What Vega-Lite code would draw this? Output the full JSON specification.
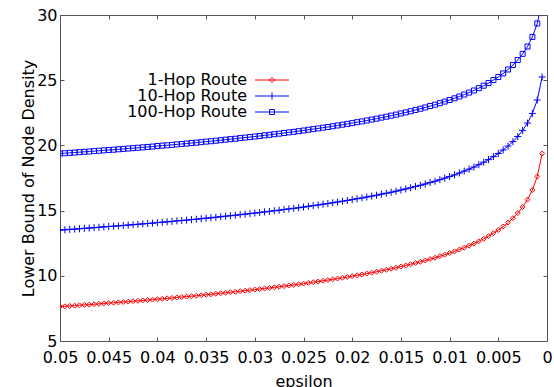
{
"$schema": "https://vega.github.io/schema/vega-lite/v6.json",
"width": 487, "height": 326,
"autosize": {"type": "none"},
"padding": {"left": 60, "top": 15, "right": 7, "bottom": 46},
"background": "white",
"data": {"values": [
{"r":"1-Hop Route","e":0.0005,"v":19.38},{"r":"10-Hop Route","e":0.0005,"v":25.25},{"r":"100-Hop Route","e":0.0005,"v":31.12},
{"r":"1-Hop Route","e":0.001,"v":17.61},{"r":"10-Hop Route","e":0.001,"v":23.48},{"r":"100-Hop Route","e":0.001,"v":29.35},
{"r":"1-Hop Route","e":0.0015,"v":16.58},{"r":"10-Hop Route","e":0.0015,"v":22.45},{"r":"100-Hop Route","e":0.0015,"v":28.32},
{"r":"1-Hop Route","e":0.002,"v":15.84},{"r":"10-Hop Route","e":0.002,"v":21.71},{"r":"100-Hop Route","e":0.002,"v":27.58},
{"r":"1-Hop Route","e":0.0025,"v":15.28},{"r":"10-Hop Route","e":0.0025,"v":21.15},{"r":"100-Hop Route","e":0.0025,"v":27.02},
{"r":"1-Hop Route","e":0.003,"v":14.81},{"r":"10-Hop Route","e":0.003,"v":20.68},{"r":"100-Hop Route","e":0.003,"v":26.55},
{"r":"1-Hop Route","e":0.0035,"v":14.42},{"r":"10-Hop Route","e":0.0035,"v":20.29},{"r":"100-Hop Route","e":0.0035,"v":26.16},
{"r":"1-Hop Route","e":0.004,"v":14.08},{"r":"10-Hop Route","e":0.004,"v":19.95},{"r":"100-Hop Route","e":0.004,"v":25.82},
{"r":"1-Hop Route","e":0.0045,"v":13.78},{"r":"10-Hop Route","e":0.0045,"v":19.65},{"r":"100-Hop Route","e":0.0045,"v":25.52},
{"r":"1-Hop Route","e":0.005,"v":13.51},{"r":"10-Hop Route","e":0.005,"v":19.38},{"r":"100-Hop Route","e":0.005,"v":25.25},
{"r":"1-Hop Route","e":0.0055,"v":13.27},{"r":"10-Hop Route","e":0.0055,"v":19.14},{"r":"100-Hop Route","e":0.0055,"v":25.01},
{"r":"1-Hop Route","e":0.006,"v":13.04},{"r":"10-Hop Route","e":0.006,"v":18.91},{"r":"100-Hop Route","e":0.006,"v":24.78},
{"r":"1-Hop Route","e":0.0065,"v":12.84},{"r":"10-Hop Route","e":0.0065,"v":18.71},{"r":"100-Hop Route","e":0.0065,"v":24.58},
{"r":"1-Hop Route","e":0.007,"v":12.65},{"r":"10-Hop Route","e":0.007,"v":18.52},{"r":"100-Hop Route","e":0.007,"v":24.39},
{"r":"1-Hop Route","e":0.0075,"v":12.47},{"r":"10-Hop Route","e":0.0075,"v":18.34},{"r":"100-Hop Route","e":0.0075,"v":24.21},
{"r":"1-Hop Route","e":0.008,"v":12.31},{"r":"10-Hop Route","e":0.008,"v":18.18},{"r":"100-Hop Route","e":0.008,"v":24.05},
{"r":"1-Hop Route","e":0.0085,"v":12.16},{"r":"10-Hop Route","e":0.0085,"v":18.03},{"r":"100-Hop Route","e":0.0085,"v":23.90},
{"r":"1-Hop Route","e":0.009,"v":12.01},{"r":"10-Hop Route","e":0.009,"v":17.88},{"r":"100-Hop Route","e":0.009,"v":23.75},
{"r":"1-Hop Route","e":0.0095,"v":11.87},{"r":"10-Hop Route","e":0.0095,"v":17.74},{"r":"100-Hop Route","e":0.0095,"v":23.61},
{"r":"1-Hop Route","e":0.01,"v":11.74},{"r":"10-Hop Route","e":0.01,"v":17.61},{"r":"100-Hop Route","e":0.01,"v":23.48},
{"r":"1-Hop Route","e":0.0105,"v":11.62},{"r":"10-Hop Route","e":0.0105,"v":17.49},{"r":"100-Hop Route","e":0.0105,"v":23.36},
{"r":"1-Hop Route","e":0.011,"v":11.50},{"r":"10-Hop Route","e":0.011,"v":17.37},{"r":"100-Hop Route","e":0.011,"v":23.24},
{"r":"1-Hop Route","e":0.0115,"v":11.38},{"r":"10-Hop Route","e":0.0115,"v":17.25},{"r":"100-Hop Route","e":0.0115,"v":23.12},
{"r":"1-Hop Route","e":0.012,"v":11.28},{"r":"10-Hop Route","e":0.012,"v":17.15},{"r":"100-Hop Route","e":0.012,"v":23.02},
{"r":"1-Hop Route","e":0.0125,"v":11.17},{"r":"10-Hop Route","e":0.0125,"v":17.04},{"r":"100-Hop Route","e":0.0125,"v":22.91},
{"r":"1-Hop Route","e":0.013,"v":11.07},{"r":"10-Hop Route","e":0.013,"v":16.94},{"r":"100-Hop Route","e":0.013,"v":22.81},
{"r":"1-Hop Route","e":0.0135,"v":10.98},{"r":"10-Hop Route","e":0.0135,"v":16.85},{"r":"100-Hop Route","e":0.0135,"v":22.72},
{"r":"1-Hop Route","e":0.014,"v":10.88},{"r":"10-Hop Route","e":0.014,"v":16.75},{"r":"100-Hop Route","e":0.014,"v":22.62},
{"r":"1-Hop Route","e":0.0145,"v":10.79},{"r":"10-Hop Route","e":0.0145,"v":16.66},{"r":"100-Hop Route","e":0.0145,"v":22.53},
{"r":"1-Hop Route","e":0.015,"v":10.71},{"r":"10-Hop Route","e":0.015,"v":16.58},{"r":"100-Hop Route","e":0.015,"v":22.45},
{"r":"1-Hop Route","e":0.0155,"v":10.62},{"r":"10-Hop Route","e":0.0155,"v":16.49},{"r":"100-Hop Route","e":0.0155,"v":22.36},
{"r":"1-Hop Route","e":0.016,"v":10.54},{"r":"10-Hop Route","e":0.016,"v":16.41},{"r":"100-Hop Route","e":0.016,"v":22.28},
{"r":"1-Hop Route","e":0.0165,"v":10.46},{"r":"10-Hop Route","e":0.0165,"v":16.33},{"r":"100-Hop Route","e":0.0165,"v":22.20},
{"r":"1-Hop Route","e":0.017,"v":10.39},{"r":"10-Hop Route","e":0.017,"v":16.26},{"r":"100-Hop Route","e":0.017,"v":22.13},
{"r":"1-Hop Route","e":0.0175,"v":10.31},{"r":"10-Hop Route","e":0.0175,"v":16.18},{"r":"100-Hop Route","e":0.0175,"v":22.05},
{"r":"1-Hop Route","e":0.018,"v":10.24},{"r":"10-Hop Route","e":0.018,"v":16.11},{"r":"100-Hop Route","e":0.018,"v":21.98},
{"r":"1-Hop Route","e":0.0185,"v":10.17},{"r":"10-Hop Route","e":0.0185,"v":16.04},{"r":"100-Hop Route","e":0.0185,"v":21.91},
{"r":"1-Hop Route","e":0.019,"v":10.10},{"r":"10-Hop Route","e":0.019,"v":15.97},{"r":"100-Hop Route","e":0.019,"v":21.84},
{"r":"1-Hop Route","e":0.0195,"v":10.04},{"r":"10-Hop Route","e":0.0195,"v":15.91},{"r":"100-Hop Route","e":0.0195,"v":21.78},
{"r":"1-Hop Route","e":0.02,"v":9.97},{"r":"10-Hop Route","e":0.02,"v":15.84},{"r":"100-Hop Route","e":0.02,"v":21.71},
{"r":"1-Hop Route","e":0.0205,"v":9.91},{"r":"10-Hop Route","e":0.0205,"v":15.78},{"r":"100-Hop Route","e":0.0205,"v":21.65},
{"r":"1-Hop Route","e":0.021,"v":9.85},{"r":"10-Hop Route","e":0.021,"v":15.72},{"r":"100-Hop Route","e":0.021,"v":21.59},
{"r":"1-Hop Route","e":0.0215,"v":9.79},{"r":"10-Hop Route","e":0.0215,"v":15.66},{"r":"100-Hop Route","e":0.0215,"v":21.53},
{"r":"1-Hop Route","e":0.022,"v":9.73},{"r":"10-Hop Route","e":0.022,"v":15.60},{"r":"100-Hop Route","e":0.022,"v":21.47},
{"r":"1-Hop Route","e":0.0225,"v":9.67},{"r":"10-Hop Route","e":0.0225,"v":15.54},{"r":"100-Hop Route","e":0.0225,"v":21.41},
{"r":"1-Hop Route","e":0.023,"v":9.62},{"r":"10-Hop Route","e":0.023,"v":15.49},{"r":"100-Hop Route","e":0.023,"v":21.36},
{"r":"1-Hop Route","e":0.0235,"v":9.56},{"r":"10-Hop Route","e":0.0235,"v":15.43},{"r":"100-Hop Route","e":0.0235,"v":21.30},
{"r":"1-Hop Route","e":0.024,"v":9.51},{"r":"10-Hop Route","e":0.024,"v":15.38},{"r":"100-Hop Route","e":0.024,"v":21.25},
{"r":"1-Hop Route","e":0.0245,"v":9.46},{"r":"10-Hop Route","e":0.0245,"v":15.33},{"r":"100-Hop Route","e":0.0245,"v":21.20},
{"r":"1-Hop Route","e":0.025,"v":9.40},{"r":"10-Hop Route","e":0.025,"v":15.27},{"r":"100-Hop Route","e":0.025,"v":21.14},
{"r":"1-Hop Route","e":0.0255,"v":9.35},{"r":"10-Hop Route","e":0.0255,"v":15.22},{"r":"100-Hop Route","e":0.0255,"v":21.09},
{"r":"1-Hop Route","e":0.026,"v":9.30},{"r":"10-Hop Route","e":0.026,"v":15.17},{"r":"100-Hop Route","e":0.026,"v":21.04},
{"r":"1-Hop Route","e":0.0265,"v":9.26},{"r":"10-Hop Route","e":0.0265,"v":15.13},{"r":"100-Hop Route","e":0.0265,"v":21.00},
{"r":"1-Hop Route","e":0.027,"v":9.21},{"r":"10-Hop Route","e":0.027,"v":15.08},{"r":"100-Hop Route","e":0.027,"v":20.95},
{"r":"1-Hop Route","e":0.0275,"v":9.16},{"r":"10-Hop Route","e":0.0275,"v":15.03},{"r":"100-Hop Route","e":0.0275,"v":20.90},
{"r":"1-Hop Route","e":0.028,"v":9.12},{"r":"10-Hop Route","e":0.028,"v":14.99},{"r":"100-Hop Route","e":0.028,"v":20.86},
{"r":"1-Hop Route","e":0.0285,"v":9.07},{"r":"10-Hop Route","e":0.0285,"v":14.94},{"r":"100-Hop Route","e":0.0285,"v":20.81},
{"r":"1-Hop Route","e":0.029,"v":9.03},{"r":"10-Hop Route","e":0.029,"v":14.90},{"r":"100-Hop Route","e":0.029,"v":20.77},
{"r":"1-Hop Route","e":0.0295,"v":8.98},{"r":"10-Hop Route","e":0.0295,"v":14.85},{"r":"100-Hop Route","e":0.0295,"v":20.72},
{"r":"1-Hop Route","e":0.03,"v":8.94},{"r":"10-Hop Route","e":0.03,"v":14.81},{"r":"100-Hop Route","e":0.03,"v":20.68},
{"r":"1-Hop Route","e":0.0305,"v":8.90},{"r":"10-Hop Route","e":0.0305,"v":14.77},{"r":"100-Hop Route","e":0.0305,"v":20.64},
{"r":"1-Hop Route","e":0.031,"v":8.86},{"r":"10-Hop Route","e":0.031,"v":14.73},{"r":"100-Hop Route","e":0.031,"v":20.60},
{"r":"1-Hop Route","e":0.0315,"v":8.82},{"r":"10-Hop Route","e":0.0315,"v":14.69},{"r":"100-Hop Route","e":0.0315,"v":20.56},
{"r":"1-Hop Route","e":0.032,"v":8.77},{"r":"10-Hop Route","e":0.032,"v":14.64},{"r":"100-Hop Route","e":0.032,"v":20.51},
{"r":"1-Hop Route","e":0.0325,"v":8.74},{"r":"10-Hop Route","e":0.0325,"v":14.61},{"r":"100-Hop Route","e":0.0325,"v":20.48},
{"r":"1-Hop Route","e":0.033,"v":8.70},{"r":"10-Hop Route","e":0.033,"v":14.57},{"r":"100-Hop Route","e":0.033,"v":20.44},
{"r":"1-Hop Route","e":0.0335,"v":8.66},{"r":"10-Hop Route","e":0.0335,"v":14.53},{"r":"100-Hop Route","e":0.0335,"v":20.40},
{"r":"1-Hop Route","e":0.034,"v":8.62},{"r":"10-Hop Route","e":0.034,"v":14.49},{"r":"100-Hop Route","e":0.034,"v":20.36},
{"r":"1-Hop Route","e":0.0345,"v":8.58},{"r":"10-Hop Route","e":0.0345,"v":14.45},{"r":"100-Hop Route","e":0.0345,"v":20.32},
{"r":"1-Hop Route","e":0.035,"v":8.55},{"r":"10-Hop Route","e":0.035,"v":14.42},{"r":"100-Hop Route","e":0.035,"v":20.29},
{"r":"1-Hop Route","e":0.0355,"v":8.51},{"r":"10-Hop Route","e":0.0355,"v":14.38},{"r":"100-Hop Route","e":0.0355,"v":20.25},
{"r":"1-Hop Route","e":0.036,"v":8.47},{"r":"10-Hop Route","e":0.036,"v":14.34},{"r":"100-Hop Route","e":0.036,"v":20.21},
{"r":"1-Hop Route","e":0.0365,"v":8.44},{"r":"10-Hop Route","e":0.0365,"v":14.31},{"r":"100-Hop Route","e":0.0365,"v":20.18},
{"r":"1-Hop Route","e":0.037,"v":8.40},{"r":"10-Hop Route","e":0.037,"v":14.27},{"r":"100-Hop Route","e":0.037,"v":20.14},
{"r":"1-Hop Route","e":0.0375,"v":8.37},{"r":"10-Hop Route","e":0.0375,"v":14.24},{"r":"100-Hop Route","e":0.0375,"v":20.11},
{"r":"1-Hop Route","e":0.038,"v":8.34},{"r":"10-Hop Route","e":0.038,"v":14.21},{"r":"100-Hop Route","e":0.038,"v":20.08},
{"r":"1-Hop Route","e":0.0385,"v":8.30},{"r":"10-Hop Route","e":0.0385,"v":14.17},{"r":"100-Hop Route","e":0.0385,"v":20.04},
{"r":"1-Hop Route","e":0.039,"v":8.27},{"r":"10-Hop Route","e":0.039,"v":14.14},{"r":"100-Hop Route","e":0.039,"v":20.01},
{"r":"1-Hop Route","e":0.0395,"v":8.24},{"r":"10-Hop Route","e":0.0395,"v":14.11},{"r":"100-Hop Route","e":0.0395,"v":19.98},
{"r":"1-Hop Route","e":0.04,"v":8.21},{"r":"10-Hop Route","e":0.04,"v":14.08},{"r":"100-Hop Route","e":0.04,"v":19.95},
{"r":"1-Hop Route","e":0.0405,"v":8.17},{"r":"10-Hop Route","e":0.0405,"v":14.04},{"r":"100-Hop Route","e":0.0405,"v":19.91},
{"r":"1-Hop Route","e":0.041,"v":8.14},{"r":"10-Hop Route","e":0.041,"v":14.01},{"r":"100-Hop Route","e":0.041,"v":19.88},
{"r":"1-Hop Route","e":0.0415,"v":8.11},{"r":"10-Hop Route","e":0.0415,"v":13.98},{"r":"100-Hop Route","e":0.0415,"v":19.85},
{"r":"1-Hop Route","e":0.042,"v":8.08},{"r":"10-Hop Route","e":0.042,"v":13.95},{"r":"100-Hop Route","e":0.042,"v":19.82},
{"r":"1-Hop Route","e":0.0425,"v":8.05},{"r":"10-Hop Route","e":0.0425,"v":13.92},{"r":"100-Hop Route","e":0.0425,"v":19.79},
{"r":"1-Hop Route","e":0.043,"v":8.02},{"r":"10-Hop Route","e":0.043,"v":13.89},{"r":"100-Hop Route","e":0.043,"v":19.76},
{"r":"1-Hop Route","e":0.0435,"v":7.99},{"r":"10-Hop Route","e":0.0435,"v":13.86},{"r":"100-Hop Route","e":0.0435,"v":19.73},
{"r":"1-Hop Route","e":0.044,"v":7.96},{"r":"10-Hop Route","e":0.044,"v":13.83},{"r":"100-Hop Route","e":0.044,"v":19.70},
{"r":"1-Hop Route","e":0.0445,"v":7.93},{"r":"10-Hop Route","e":0.0445,"v":13.80},{"r":"100-Hop Route","e":0.0445,"v":19.67},
{"r":"1-Hop Route","e":0.045,"v":7.91},{"r":"10-Hop Route","e":0.045,"v":13.78},{"r":"100-Hop Route","e":0.045,"v":19.65},
{"r":"1-Hop Route","e":0.0455,"v":7.88},{"r":"10-Hop Route","e":0.0455,"v":13.75},{"r":"100-Hop Route","e":0.0455,"v":19.62},
{"r":"1-Hop Route","e":0.046,"v":7.85},{"r":"10-Hop Route","e":0.046,"v":13.72},{"r":"100-Hop Route","e":0.046,"v":19.59},
{"r":"1-Hop Route","e":0.0465,"v":7.82},{"r":"10-Hop Route","e":0.0465,"v":13.69},{"r":"100-Hop Route","e":0.0465,"v":19.56},
{"r":"1-Hop Route","e":0.047,"v":7.79},{"r":"10-Hop Route","e":0.047,"v":13.66},{"r":"100-Hop Route","e":0.047,"v":19.53},
{"r":"1-Hop Route","e":0.0475,"v":7.77},{"r":"10-Hop Route","e":0.0475,"v":13.64},{"r":"100-Hop Route","e":0.0475,"v":19.51},
{"r":"1-Hop Route","e":0.048,"v":7.74},{"r":"10-Hop Route","e":0.048,"v":13.61},{"r":"100-Hop Route","e":0.048,"v":19.48},
{"r":"1-Hop Route","e":0.0485,"v":7.71},{"r":"10-Hop Route","e":0.0485,"v":13.58},{"r":"100-Hop Route","e":0.0485,"v":19.45},
{"r":"1-Hop Route","e":0.049,"v":7.69},{"r":"10-Hop Route","e":0.049,"v":13.56},{"r":"100-Hop Route","e":0.049,"v":19.43},
{"r":"1-Hop Route","e":0.0495,"v":7.66},{"r":"10-Hop Route","e":0.0495,"v":13.53},{"r":"100-Hop Route","e":0.0495,"v":19.40},
{"r":"1-Hop Route","e":0.05,"v":7.64},{"r":"10-Hop Route","e":0.05,"v":13.51},{"r":"100-Hop Route","e":0.05,"v":19.38}
]},
"config": {
  "font": "DejaVu Sans",
  "view": {"stroke": "#555555", "strokeWidth": 1},
  "axis": {"grid": false, "domain": false, "tickColor": "#555555", "tickSize": -4, "tickWidth": 1,
    "labelFont": "DejaVu Sans", "labelFontSize": 16, "labelColor": "#000000",
    "titleFont": "DejaVu Sans", "titleFontSize": 16, "titleFontWeight": "normal", "titleColor": "#000000",
    "labelFlush": false, "labelOverlap": false, "labelBound": false},
  "legend": {"labelFont": "DejaVu Sans", "labelFontSize": 16, "labelColor": "#000000"}
},
"layer": [
  {"mark": {"type": "line", "clip": true, "strokeWidth": 1},
   "encoding": {
     "x": {"field": "e", "type": "quantitative",
       "scale": {"domain": [0, 0.05], "reverse": true, "nice": false, "zero": false},
       "axis": {"orient": "bottom", "values": [0,0.005,0.01,0.015,0.02,0.025,0.03,0.035,0.04,0.045,0.05], "format": "~g", "title": "epsilon", "labelPadding": 12, "titlePadding": 8}},
     "y": {"field": "v", "type": "quantitative",
       "scale": {"domain": [5, 30], "nice": false, "zero": false},
       "axis": {"orient": "left", "values": [5,10,15,20,25,30], "title": "Lower Bound of Node Density", "labelPadding": 7, "titlePadding": 0}},
     "color": {"field": "r", "type": "nominal",
       "scale": {"domain": ["1-Hop Route", "10-Hop Route", "100-Hop Route"], "range": ["#ff0000", "#0000ff", "#0000ff"]},
       "legend": {"title": null, "orient": "none", "legendX": 204, "legendY": 57, "padding": 0,
         "symbolSize": 100, "symbolStrokeWidth": 1, "labelAlign": "right", "labelOffset": -33, "rowPadding": 0,
         "encode": {"symbols": {"update": {
           "shape": {"signal": "datum.value === '1-Hop Route' ? 'M-3.4,0L3.4,0M-0.5,0L0,-0.5L0.5,0L0,0.5Z' : datum.value === '10-Hop Route' ? 'M-3.4,0L3.4,0M0,-0.7L0,0.7' : 'M-3.4,0L3.4,0M-0.5,-0.5L0.5,-0.5L0.5,0.5L-0.5,0.5Z'"},
           "fill": {"value": "transparent"},
           "stroke": {"scale": "color", "field": "value"},
           "strokeWidth": {"value": 1},
           "opacity": {"value": 1}}}}}}
   }},
  {"transform": [{"filter": "datum.r === '1-Hop Route'"}],
   "mark": {"type": "point", "clip": true, "filled": false, "strokeWidth": 1, "opacity": 1, "shape": "diamond", "size": 25, "color": "#ff0000"},
   "encoding": {
     "x": {"field": "e", "type": "quantitative",
       "axis": {"orient": "top", "values": [0,0.005,0.01,0.015,0.02,0.025,0.03,0.035,0.04,0.045,0.05], "labels": false, "title": null}},
     "y": {"field": "v", "type": "quantitative",
       "axis": {"orient": "right", "values": [5,10,15,20,25,30], "labels": false, "title": null}}
   }},
  {"transform": [{"filter": "datum.r === '10-Hop Route'"}],
   "mark": {"type": "point", "clip": true, "filled": false, "strokeWidth": 1, "opacity": 1, "shape": "M-1,0L1,0M0,-1L0,1", "size": 49, "color": "#0000ff"},
   "encoding": {
     "x": {"field": "e", "type": "quantitative", "axis": null},
     "y": {"field": "v", "type": "quantitative", "axis": null}
   }},
  {"transform": [{"filter": "datum.r === '100-Hop Route'"}],
   "mark": {"type": "point", "clip": true, "filled": false, "strokeWidth": 1, "opacity": 1, "shape": "square", "size": 25, "color": "#0000ff"},
   "encoding": {
     "x": {"field": "e", "type": "quantitative", "axis": null},
     "y": {"field": "v", "type": "quantitative", "axis": null}
   }}
],
"resolve": {"axis": {"x": "independent", "y": "independent"}}
}
